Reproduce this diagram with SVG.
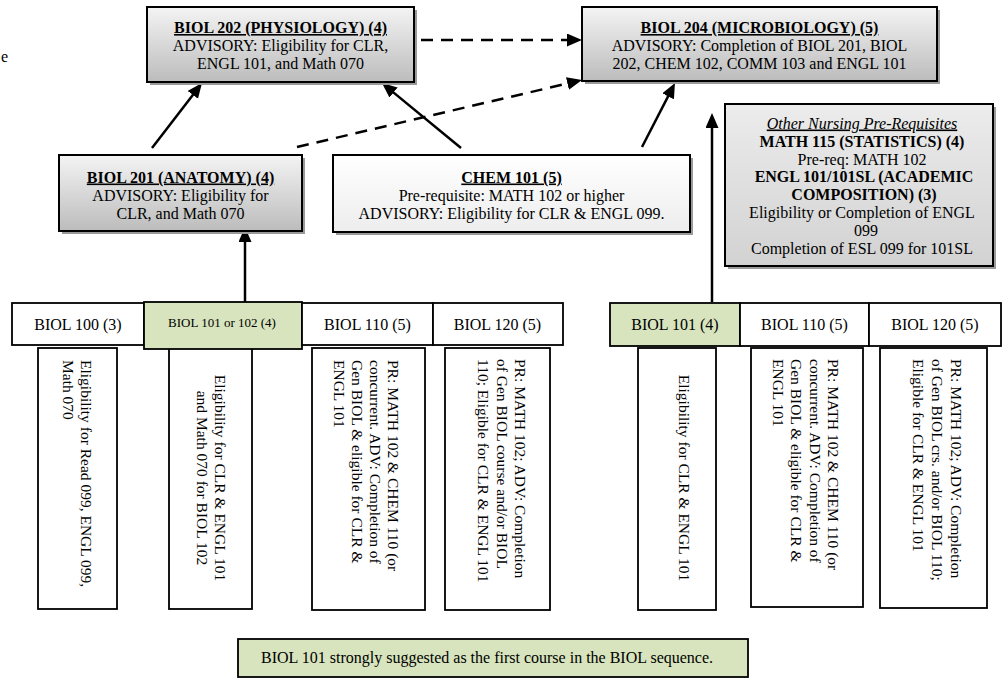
<svg xmlns="http://www.w3.org/2000/svg" width="1005" height="679" viewBox="0 0 1005 679">
<defs>
<linearGradient id="gGray" x1="0" y1="0" x2="0" y2="1">
<stop offset="0" stop-color="#f4f4f4"/>
<stop offset="1" stop-color="#bcbcbc"/>
</linearGradient>
<linearGradient id="gLight" x1="0" y1="0" x2="0" y2="1">
<stop offset="0" stop-color="#ececec"/>
<stop offset="1" stop-color="#d2d2d2"/>
</linearGradient>
<linearGradient id="gWhite" x1="0" y1="0" x2="0" y2="1">
<stop offset="0" stop-color="#ffffff"/>
<stop offset="1" stop-color="#ededed"/>
</linearGradient>
<marker id="arrow" markerUnits="userSpaceOnUse" markerWidth="16" markerHeight="14" refX="5" refY="6.5" orient="auto">
<path d="M0,0 L15,6.5 L0,13 Z" fill="#000"/>
</marker>
<style>
text{font-family:"Liberation Serif","Times New Roman",serif;font-size:16px;fill:#000}
.c{text-anchor:middle}
.b{font-weight:bold}
.u{text-decoration:underline}
.i{font-style:italic}
.sm{font-size:13px}
.vt{font-size:15.5px}
.box{stroke:#000;stroke-width:2}
.thin{stroke:#000;stroke-width:1.8}
.shadow{fill:#9a9a9a}
.gray{fill:url(#gGray)}
.light{fill:url(#gLight)}
.white{fill:url(#gWhite)}
.plain{fill:#fff}
.green{fill:#d7e4bd}
.solid{stroke:#000;stroke-width:2.5;fill:none}
.dash{stroke:#000;stroke-width:2.5;fill:none;stroke-dasharray:12 8}
</style>
</defs>

<text x="8" y="62" text-anchor="end">e</text>

<g id="connectors">
<line class="dash" x1="421" y1="40" x2="572" y2="40" marker-end="url(#arrow)"/>
<line class="dash" x1="297" y1="147" x2="572.3" y2="82.3" marker-end="url(#arrow)"/>
<line class="solid" x1="152" y1="148" x2="195.9" y2="90.9" marker-end="url(#arrow)"/>
<line class="solid" x1="461" y1="148" x2="389.7" y2="89.4" marker-end="url(#arrow)"/>
<line class="solid" x1="642" y1="147" x2="670.4" y2="91.9" marker-end="url(#arrow)"/>
<line class="solid" x1="712" y1="302" x2="712" y2="123" marker-end="url(#arrow)"/>
<line class="solid" x1="245" y1="302" x2="245" y2="237" marker-end="url(#arrow)"/>
</g>

<g id="biol202">
<rect class="shadow" x="150" y="10" width="267" height="75"/>
<rect class="box gray" x="147" y="7" width="267" height="75"/>
<text class="c b u" x="280.5" y="33">BIOL 202 (PHYSIOLOGY) (4)</text>
<text class="c" x="280.5" y="51">ADVISORY: Eligibility for CLR,</text>
<text class="c" x="280.5" y="68.5">ENGL 101, and Math 070</text>
</g>

<g id="biol204">
<rect class="shadow" x="585" y="10" width="355" height="74"/>
<rect class="box gray" x="582" y="7" width="355" height="74"/>
<text class="c b u" x="759.5" y="33">BIOL 204 (MICROBIOLOGY) (5)</text>
<text class="c" x="759.5" y="51">ADVISORY: Completion of BIOL 201, BIOL</text>
<text class="c" x="759.5" y="68.5">202, CHEM 102, COMM 103 and ENGL 101</text>
</g>

<g id="biol201">
<rect class="shadow" x="62" y="158" width="243" height="76"/>
<rect class="box gray" x="59" y="155" width="243" height="76"/>
<text class="c b u" x="180.5" y="182.5">BIOL 201 (ANATOMY) (4)</text>
<text class="c" x="180.5" y="200.5">ADVISORY: Eligibility for</text>
<text class="c" x="180.5" y="218.5">CLR, and Math 070</text>
</g>

<g id="chem101">
<rect class="shadow" x="336" y="158" width="357" height="77"/>
<rect class="box white" x="333" y="155" width="357" height="77"/>
<text class="c b u" x="511.5" y="182.5">CHEM 101 (5)</text>
<text class="c" x="511.5" y="200.5">Pre-requisite: MATH 102 or higher</text>
<text class="c" x="511.5" y="218.5">ADVISORY: Eligibility for CLR &amp; ENGL 099.</text>
</g>

<g id="other-prereqs">
<rect class="shadow" x="728" y="107" width="268" height="162"/>
<rect class="box light" x="725" y="104" width="268" height="162"/>
<text class="c i u" x="862" y="128.5">Other Nursing Pre-Requisites</text>
<text class="c b" x="862" y="146.5">MATH 115 (STATISTICS) (4)</text>
<text class="c" x="862" y="164.5">Pre-req: MATH 102</text>
<text class="c b" x="864" y="182">ENGL 101/101SL (ACADEMIC</text>
<text class="c b" x="864" y="200">COMPOSITION) (3)</text>
<text class="c" x="862" y="218">Eligibility or Completion of ENGL</text>
<text class="c" x="866" y="235.5">099</text>
<text class="c" x="862" y="253.5">Completion of ESL 099 for 101SL</text>
</g>

<g id="biol100">
<rect class="thin plain" x="12" y="303" width="132" height="42"/>
<text class="c" x="78" y="330">BIOL 100 (3)</text>
<rect class="thin plain" x="38" y="348" width="79" height="261"/>
<text class="vt" transform="translate(81,360) rotate(90)"><tspan x="0" y="0">Eligibility for Read 099, ENGL 099,</tspan><tspan x="0" y="18">Math 070</tspan></text>
</g>

<g id="biol101or102">
<rect class="thin plain" x="169" y="348" width="83" height="261"/>
<rect class="thin green" x="144" y="302" width="158" height="47"/>
<text class="c sm" x="222" y="327">BIOL 101 or 102 (4)</text>
<text class="vt c" transform="translate(215,478) rotate(90)"><tspan x="0" y="0">Eligibility for CLR &amp; ENGL 101</tspan><tspan x="0" y="18">and Math 070 for BIOL 102</tspan></text>
</g>

<g id="biol110-a">
<rect class="thin plain" x="302" y="303" width="131" height="42"/>
<text class="c" x="367.5" y="330">BIOL 110 (5)</text>
<rect class="thin plain" x="312" y="348" width="113" height="262"/>
<text class="vt" transform="translate(388,360) rotate(90)"><tspan x="0" y="0">PR: MATH 102 &amp; CHEM 110 (or</tspan><tspan x="0" y="18">concurrent. ADV: Completion of</tspan><tspan x="0" y="36">Gen BIOL &amp; eligible for CLR &amp;</tspan><tspan x="0" y="54">ENGL 101</tspan></text>
</g>

<g id="biol120-a">
<rect class="thin plain" x="433" y="303" width="130" height="42"/>
<text class="c" x="497.5" y="330">BIOL 120 (5)</text>
<rect class="thin plain" x="445" y="348" width="105" height="262"/>
<text class="vt" transform="translate(515,359) rotate(90)"><tspan x="0" y="0">PR: MATH 102; ADV: Completion</tspan><tspan x="0" y="18.5">of Gen BIOL course and/or BIOL</tspan><tspan x="0" y="37">110; Eligible for CLR &amp; ENGL 101</tspan></text>
</g>

<g id="biol101">
<rect class="thin green" x="610" y="303" width="130" height="43"/>
<text class="c" x="675" y="330">BIOL 101 (4)</text>
<rect class="thin plain" x="638" y="348" width="78" height="262"/>
<text class="vt c" transform="translate(679,478) rotate(90)">Eligibility for CLR &amp; ENGL 101</text>
</g>

<g id="biol110-b">
<rect class="thin plain" x="740" y="303" width="129" height="43"/>
<text class="c" x="804.5" y="330">BIOL 110 (5)</text>
<rect class="thin plain" x="751" y="348" width="112" height="259"/>
<text class="vt" transform="translate(828,359) rotate(90)"><tspan x="0" y="0">PR: MATH 102 &amp; CHEM 110 (or</tspan><tspan x="0" y="18.5">concurrent. ADV: Completion of</tspan><tspan x="0" y="37">Gen BIOL &amp; eligible for CLR &amp;</tspan><tspan x="0" y="55.5">ENGL 101</tspan></text>
</g>

<g id="biol120-b">
<rect class="thin plain" x="869" y="303" width="132" height="43"/>
<text class="c" x="935" y="330">BIOL 120 (5)</text>
<rect class="thin plain" x="880" y="348" width="107" height="260"/>
<text class="vt" transform="translate(951,359) rotate(90)"><tspan x="0" y="0">PR: MATH 102; ADV: Completion</tspan><tspan x="0" y="19">of Gen BIOL crs. and/or BIOL 110;</tspan><tspan x="0" y="38">Eligible for CLR &amp; ENGL 101</tspan></text>
</g>

<g id="note">
<rect class="thin green" x="238" y="639" width="510" height="38"/>
<text x="261" y="663">BIOL 101 strongly suggested as the first course in the BIOL sequence.</text>
</g>
</svg>
